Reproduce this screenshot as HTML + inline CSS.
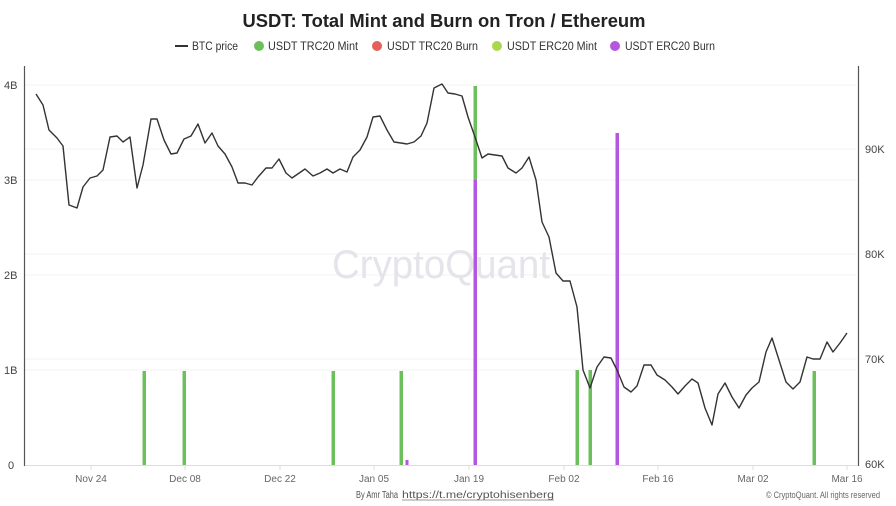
<!DOCTYPE html>
<html><head><meta charset="utf-8"><style>
html,body{margin:0;padding:0;background:#fff;}
svg{display:block;font-family:"Liberation Sans",sans-serif;}
</style></head><body>
<svg width="896" height="506" viewBox="0 0 896 506" xmlns="http://www.w3.org/2000/svg">
<rect width="896" height="506" fill="#fff"/>
<text x="444" y="27" text-anchor="middle" font-size="18" font-weight="bold" fill="#222" textLength="403" lengthAdjust="spacingAndGlyphs">USDT: Total Mint and Burn on Tron / Ethereum</text>
<!-- legend -->
<g font-size="11.5" fill="#333">
<line x1="175" y1="46" x2="188" y2="46" stroke="#333" stroke-width="2"/>
<text x="192" y="50" textLength="46" lengthAdjust="spacingAndGlyphs">BTC price</text>
<circle cx="259" cy="46" r="5" fill="#6cc05c"/>
<text x="268" y="50" textLength="90" lengthAdjust="spacingAndGlyphs">USDT TRC20 Mint</text>
<circle cx="377" cy="46" r="5" fill="#e5605a"/>
<text x="387" y="50" textLength="91" lengthAdjust="spacingAndGlyphs">USDT TRC20 Burn</text>
<circle cx="497" cy="46" r="5" fill="#a9d84e"/>
<text x="507" y="50" textLength="90" lengthAdjust="spacingAndGlyphs">USDT ERC20 Mint</text>
<circle cx="615" cy="46" r="5" fill="#b456e0"/>
<text x="625" y="50" textLength="90" lengthAdjust="spacingAndGlyphs">USDT ERC20 Burn</text>
</g>
<!-- gridlines -->
<g stroke="#f3f3f3" stroke-width="1">
<line x1="25" y1="85" x2="857" y2="85"/>
<line x1="25" y1="180" x2="857" y2="180"/>
<line x1="25" y1="275" x2="857" y2="275"/>
<line x1="25" y1="370" x2="857" y2="370"/>
<line x1="25" y1="149" x2="857" y2="149"/>
<line x1="25" y1="254" x2="857" y2="254"/>
<line x1="25" y1="359" x2="857" y2="359"/>
</g>
<!-- watermark -->
<text x="441" y="278" text-anchor="middle" font-size="40" fill="#e4e4ea" textLength="218" lengthAdjust="spacingAndGlyphs">CryptoQuant</text>
<!-- axes -->
<line x1="24.5" y1="66" x2="24.5" y2="466" stroke="#555" stroke-width="1.2"/>
<line x1="858.5" y1="66" x2="858.5" y2="466" stroke="#555" stroke-width="1.2"/>
<line x1="25" y1="465.5" x2="858" y2="465.5" stroke="#ddd" stroke-width="1"/>
<g stroke="#ddd" stroke-width="1">
<line x1="91" y1="466" x2="91" y2="470"/>
<line x1="185" y1="466" x2="185" y2="470"/>
<line x1="280" y1="466" x2="280" y2="470"/>
<line x1="374" y1="466" x2="374" y2="470"/>
<line x1="469" y1="466" x2="469" y2="470"/>
<line x1="564" y1="466" x2="564" y2="470"/>
<line x1="658" y1="466" x2="658" y2="470"/>
<line x1="753" y1="466" x2="753" y2="470"/>
<line x1="847" y1="466" x2="847" y2="470"/>
</g>
<g font-size="11" fill="#444">
<text x="4" y="89">4B</text>
<text x="4" y="184">3B</text>
<text x="4" y="279">2B</text>
<text x="4" y="374">1B</text>
<text x="8" y="469">0</text>
<text x="865" y="153">90K</text>
<text x="865" y="258">80K</text>
<text x="865" y="363">70K</text>
<text x="865" y="468">60K</text>
</g>
<g font-size="10" fill="#666" text-anchor="middle">
<text x="91" y="482">Nov 24</text>
<text x="185" y="482">Dec 08</text>
<text x="280" y="482">Dec 22</text>
<text x="374" y="482">Jan 05</text>
<text x="469" y="482">Jan 19</text>
<text x="564" y="482">Feb 02</text>
<text x="658" y="482">Feb 16</text>
<text x="753" y="482">Mar 02</text>
<text x="847" y="482">Mar 16</text>
</g>
<!-- bars -->
<g fill="#6cc05c">
<rect x="142.5" y="371" width="3.5" height="94"/>
<rect x="182.5" y="371" width="3.5" height="94"/>
<rect x="331.5" y="371" width="3.5" height="94"/>
<rect x="399.5" y="371" width="3.5" height="94"/>
<rect x="575.5" y="370" width="3.5" height="95"/>
<rect x="588.5" y="370" width="3.5" height="95"/>
<rect x="812.5" y="371" width="3.5" height="94"/>
<rect x="473.5" y="86" width="3.5" height="94"/>
</g>
<g fill="#b456e0">
<rect x="473.5" y="180" width="3.5" height="285"/>
<rect x="615.5" y="133" width="3.5" height="332"/>
<rect x="405.5" y="460" width="3" height="5"/>
</g>
<!-- BTC line -->
<polyline fill="none" stroke="#333" stroke-width="1.4" stroke-linejoin="round" points="
36,94 43,105 49,130 57,138 63,146 69,205 77,208 83,187 90,178 97,176 103,170 110,137 117,136 123,142 130,137 137,188 143,165 151,119 157,119 164,140 171,154 177,153 184,139 191,136 198,124 205,143 212,133 218,146 225,154 232,167 238,183 245,183 252,185 258,177 266,168 272,168 279,159 286,173 292,178
305,169 313,176 320,173 327,169 333,173 340,169 347,172 353,157 360,150 367,137 373,117 380,116 387,130 394,142 401,143 407,144 414,142 421,136 427,123 434,88 442,84 448,93 455,94 462,96 468,117 475,137 482,158 488,154 495,155 502,156 508,168 516,173 522,168 529,157 536,180 542,222 549,237
556,273 563,281 570,281 577,307 583,370 590,388 597,367 604,357 611,358 617,370 624,387 631,392 637,386 644,365 651,365 657,375 665,380 672,387 678,394 685,386 692,379 698,383 705,408 712,425 718,394 725,383 732,397 739,408 746,395 752,388 759,382 766,352 772,338 779,360 786,382 793,389 800,382 807,357 813,359 820,359 827,342 833,352 840,343 847,333"/>
<!-- footer -->
<text x="356" y="498" font-size="10" fill="#555" textLength="42" lengthAdjust="spacingAndGlyphs">By Amr Taha</text>
<text x="402" y="498" font-size="10" fill="#555" textLength="152" lengthAdjust="spacingAndGlyphs">https://t.me/cryptohisenberg</text>
<line x1="402" y1="500" x2="554" y2="500" stroke="#777" stroke-width="0.7"/>
<text x="766" y="498" font-size="9" fill="#666" textLength="114" lengthAdjust="spacingAndGlyphs">© CryptoQuant. All rights reserved</text>
</svg>
</body></html>
